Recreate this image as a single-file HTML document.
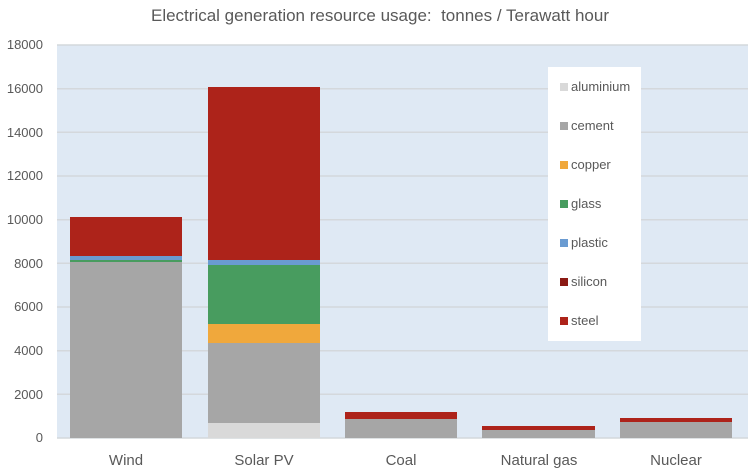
<!DOCTYPE html>
<html><head><style>
body{margin:0;background:#fff;}
svg text{font-family:"Liberation Sans",sans-serif;fill:#595959;}
</style></head><body>
<svg width="750" height="471" xmlns="http://www.w3.org/2000/svg">
<rect width="750" height="471" fill="#fff"/>
<text x="380" y="21" font-size="17" text-anchor="middle">Electrical generation resource usage:&#160; tonnes / Terawatt hour</text>
<rect x="57" y="45" width="691" height="393" fill="#dfe9f4"/>
<g stroke="#d4d8dc" stroke-width="1.5">
<line x1="57" x2="748" y1="45" y2="45"/><line x1="57" x2="748" y1="88.7" y2="88.7"/>
<line x1="57" x2="748" y1="132.3" y2="132.3"/><line x1="57" x2="748" y1="176" y2="176"/>
<line x1="57" x2="748" y1="219.7" y2="219.7"/><line x1="57" x2="748" y1="263.3" y2="263.3"/>
<line x1="57" x2="748" y1="307" y2="307"/><line x1="57" x2="748" y1="350.7" y2="350.7"/>
<line x1="57" x2="748" y1="394.3" y2="394.3"/><line x1="57" x2="748" y1="438" y2="438"/>
</g>
<g font-size="13" text-anchor="end">
<text x="43" y="49">18000</text><text x="43" y="93">16000</text><text x="43" y="137">14000</text>
<text x="43" y="180">12000</text><text x="43" y="224">10000</text><text x="43" y="268">8000</text>
<text x="43" y="311">6000</text><text x="43" y="355">4000</text><text x="43" y="399">2000</text>
<text x="43" y="442">0</text>
</g>
<rect x="70" y="217" width="112" height="39" fill="#ad231a"/>
<rect x="70" y="256" width="112" height="4" fill="#6a9bd1"/>
<rect x="70" y="260" width="112" height="2" fill="#489c5f"/>
<rect x="70" y="262" width="112" height="176" fill="#a6a6a6"/>
<rect x="208" y="87" width="112" height="173" fill="#ad231a"/>
<rect x="208" y="260" width="112" height="5" fill="#6a9bd1"/>
<rect x="208" y="265" width="112" height="59" fill="#489c5f"/>
<rect x="208" y="324" width="112" height="19" fill="#f0a83c"/>
<rect x="208" y="343" width="112" height="80" fill="#a6a6a6"/>
<rect x="208" y="423" width="112" height="15" fill="#d9d9d9"/>
<rect x="345" y="412" width="112" height="7" fill="#ad231a"/>
<rect x="345" y="419" width="112" height="19" fill="#a6a6a6"/>
<rect x="482" y="426" width="113" height="4" fill="#ad231a"/>
<rect x="482" y="430" width="113" height="8" fill="#a6a6a6"/>
<rect x="620" y="418" width="112" height="4" fill="#ad231a"/>
<rect x="620" y="422" width="112" height="16" fill="#a6a6a6"/>
<g font-size="15" text-anchor="middle">
<text x="126" y="465">Wind</text><text x="264" y="465">Solar PV</text><text x="401" y="465">Coal</text>
<text x="539" y="465">Natural gas</text><text x="676" y="465">Nuclear</text>
</g>
<rect x="548" y="67" width="93" height="274" fill="#fff"/>
<g font-size="13">
<rect x="560" y="83" width="8" height="8" fill="#d9d9d9"/><text x="571" y="91">aluminium</text>
<rect x="560" y="122" width="8" height="8" fill="#a6a6a6"/><text x="571" y="130">cement</text>
<rect x="560" y="161" width="8" height="8" fill="#f0a83c"/><text x="571" y="169">copper</text>
<rect x="560" y="200" width="8" height="8" fill="#489c5f"/><text x="571" y="208">glass</text>
<rect x="560" y="239" width="8" height="8" fill="#6a9bd1"/><text x="571" y="247">plastic</text>
<rect x="560" y="278" width="8" height="8" fill="#8b1a14"/><text x="571" y="286">silicon</text>
<rect x="560" y="317" width="8" height="8" fill="#ad231a"/><text x="571" y="325">steel</text>
</g>
</svg>
</body></html>
